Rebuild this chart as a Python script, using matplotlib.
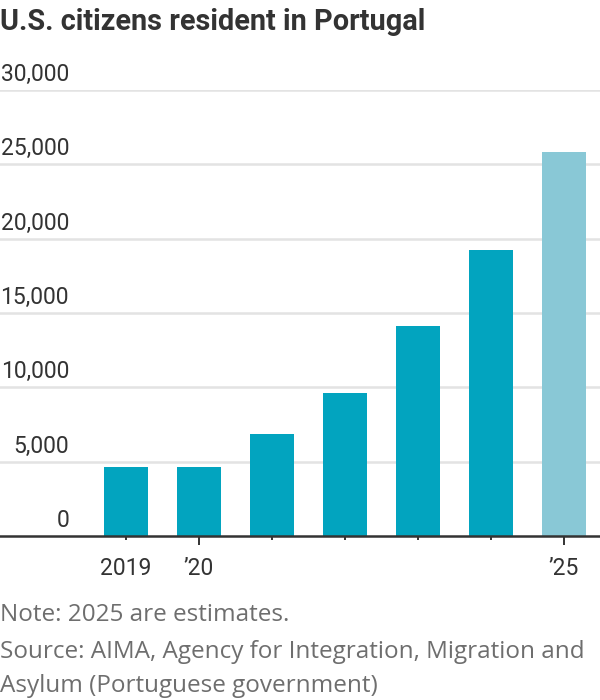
import matplotlib
matplotlib.use("Agg")
import matplotlib.pyplot as plt
import matplotlib.transforms as mtransforms

# data
years = ["2019", "\u201920", "2021", "2022", "2023", "2024", "\u201925"]
residents = [4670, 4670, 6830, 9640, 14100, 19240, 25860]
estimated = [False, False, False, False, False, False, True]
y_ticks = [0, 5000, 10000, 15000, 20000, 25000, 30000]
labelled = {0: "2019", 1: "\u201920", 6: "\u201925"}

BAR = "#02a4bf"
BAR_EST = "#89c8d6"
GRID = "#e3e3e3"
INK = "#333333"
GREY = "#6e6e6e"
NARROW = ["Roboto", "DejaVu Sans"]
PLAIN = ["Open Sans", "DejaVu Sans"]

fig = plt.figure(figsize=(6, 7), dpi=100)
ax = fig.add_axes([0, 164 / 700, 1, 446 / 700])

x = list(range(len(years)))
colors = [BAR_EST if e else BAR for e in estimated]
ax.bar(x, residents, width=0.6, color=colors, zorder=3)

ax.set_xlim(-126 / 73, (600 - 126) / 73)
ax.set_ylim(0, 30000)

# grid + y labels sitting above each line
for v in y_ticks[1:]:
    ax.axhline(v, color=GRID, lw=1.8, zorder=1)
trans = mtransforms.blended_transform_factory(ax.transAxes, ax.transData)
for v in y_ticks:
    ax.annotate(f"{v:,}", xy=(69 / 600, v), xycoords=trans,
                xytext=(0, 3), textcoords="offset points",
                ha="right", va="bottom", fontsize=16.5, color=INK,
                family=NARROW, annotation_clip=False)

ax.set_yticks([])
for s in ["left", "right", "top"]:
    ax.spines[s].set_visible(False)
ax.spines["bottom"].set_color(INK)
ax.spines["bottom"].set_linewidth(1.8)
ax.spines["bottom"].set_zorder(4)

# longer ticks for '20 and '25, short ones elsewhere
major = [i for i in x if i in (1, 6)]
minor = [i for i in x if i not in (1, 6)]
ax.set_xticks(major, [labelled.get(i, "") for i in major])
ax.set_xticks(minor, [labelled.get(i, "") for i in minor], minor=True)
ax.tick_params(axis="x", which="major", length=6.5, width=1.4, color=INK,
               pad=8.5, labelsize=16.5, labelcolor=INK)
ax.tick_params(axis="x", which="minor", length=3.2, width=1.4, color=INK,
               pad=11.8, labelsize=16.5, labelcolor=INK)
for lab in ax.get_xticklabels(which="both"):
    lab.set_family(NARROW)

fig.text(0.0, 1 - 22 / 700, "U.S. citizens resident in Portugal",
         fontsize=20.8, fontweight="bold", color=INK, family=NARROW,
         ha="left", va="center")

fig.text(0.0, 1 - 615 / 700, "Note: 2025 are estimates.",
         fontsize=17.5, color=GREY, family=PLAIN, ha="left", va="center")
fig.text(0.0, 1 - 652 / 700,
         "Source: AIMA, Agency for Integration, Migration and",
         fontsize=17.5, color=GREY, family=PLAIN, ha="left", va="center")
fig.text(0.0, 1 - 686 / 700, "Asylum (Portuguese government)",
         fontsize=17.5, color=GREY, family=PLAIN, ha="left", va="center")

fig.savefig("out.png", dpi=100)
